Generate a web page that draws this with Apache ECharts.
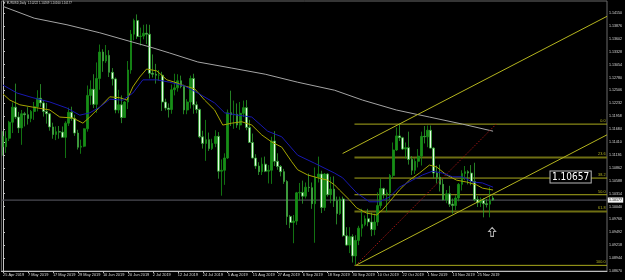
<!DOCTYPE html>
<html><head><meta charset="utf-8">
<script src="https://cdn.jsdelivr.net/npm/echarts@6/dist/echarts.min.js"></script>
<style>html,body{margin:0;padding:0;background:#000;}#c{width:625px;height:280px;}</style>
</head><body><div id="c"></div>
<script>
// ---- categories (trading days) ----
const monthDays = [
 ['Apr', [25,26,29,30]],
 ['May', [1,2,3,6,7,8,9,10,13,14,15,16,17,20,21,22,23,24,27,28,29,30,31]],
 ['Jun', [3,4,5,6,7,10,11,12,13,14,17,18,19,20,21,24,25,26,27,28]],
 ['Jul', [1,2,3,4,5,8,9,10,11,12,15,16,17,18,19,22,23,24,25,26,29,30,31]],
 ['Aug', [1,2,5,6,7,8,9,12,13,14,15,16,19,20,21,22,23,26,27,28,29,30]],
 ['Sep', [2,3,4,5,6,9,10,11,12,13,16,17,18,19,20,23,24,25,26,27,30]],
 ['Oct', [1,2,3,4,7,8,9,10,11,14,15,16,17,18,21,22,23,24,25,28,29,30,31]],
 ['Nov', [1,4,5,6,7,8,11,12,13,14,15,18,19,20,21,22,25,26,27,28,29]],
 ['Dec', [2]]
];
const FUTURE_SLOTS = 36;

// ---- OHLC ----
const opens = [
1.1153,1.1131,1.1149,1.1183,1.1215,1.1194,1.1171,1.1201,1.1199,1.1191,
1.1206,1.1216,1.1234,1.1224,1.1206,1.1201,1.1173,1.1157,1.1163,1.1162,
1.1151,1.1181,1.1204,1.1191,1.1160,1.1130,1.1132,1.1169,1.1240,1.1253,
1.1221,1.1276,1.1332,1.1313,1.1325,1.1289,1.1275,1.1209,1.1220,1.1193,
1.1226,1.1294,1.1370,1.1399,1.1365,1.1366,1.1372,1.1370,1.1287,1.1285,
1.1283,1.1283,1.1226,1.1213,1.1210,1.1252,1.1256,1.1271,1.1259,1.1209,
1.1226,1.1276,1.1220,1.1210,1.1152,1.1138,1.1146,1.1127,1.1138,1.1153,
1.1079,1.1081,1.1107,1.1203,1.1199,1.1200,1.1177,1.1202,1.1214,1.1172,
1.1140,1.1107,1.1090,1.1078,1.1094,1.1079,1.1081,1.1143,1.1100,1.1089,
1.1078,1.1057,1.0983,1.0970,1.0973,1.1033,1.1034,1.1026,1.1045,1.1044,
1.1010,1.1066,1.1073,1.1002,1.1073,1.1029,1.1041,1.1016,1.0989,1.1020,
1.0942,1.0922,1.0940,1.0899,1.0932,1.0958,1.0966,1.0978,1.0971,1.0955,
1.0971,1.1006,1.1042,1.1029,1.1033,1.1070,1.1124,1.1154,1.1150,1.1126,
1.1129,1.1104,1.1081,1.1100,1.1111,1.1153,1.1152,1.1166,1.1128,1.1075,
1.1066,1.1051,1.1018,1.1031,1.1009,1.1006,1.1022,1.1051,1.1074,1.1078,
1.1075,1.1057,1.1019,1.1012,1.1017,1.1010,1.1009,1.10222];
const highs = [
1.1164,1.1164,1.1186,1.1225,1.1265,1.1205,1.1209,1.1205,1.1215,1.1209,
1.1226,1.1251,1.1264,1.1230,1.1224,1.1203,1.1182,1.1174,1.1175,1.1174,
1.1185,1.1214,1.1216,1.1199,1.1167,1.1146,1.1170,1.1261,1.1272,1.1285,
1.1310,1.1348,1.1338,1.1347,1.1336,1.1298,1.1278,1.1252,1.1240,1.1228,
1.1313,1.1379,1.1403,1.1412,1.1384,1.1390,1.1391,1.1390,1.1327,1.1307,
1.1294,1.1290,1.1233,1.1223,1.1263,1.1286,1.1285,1.1282,1.1263,1.1232,
1.1282,1.1286,1.1227,1.1212,1.1165,1.1188,1.1161,1.1148,1.1166,1.1162,
1.1104,1.1117,1.1210,1.1250,1.1229,1.1223,1.1226,1.1229,1.1230,1.1188,
1.1159,1.1115,1.1098,1.1108,1.1110,1.1092,1.1152,1.1164,1.1117,1.1092,
1.1084,1.1060,1.0986,1.0986,1.1035,1.1054,1.1059,1.1055,1.1074,1.1055,
1.1087,1.1110,1.1080,1.1075,1.1075,1.1067,1.1068,1.1025,1.1025,1.1025,
1.0960,1.0960,1.0945,1.0943,1.0963,1.0999,1.0985,1.0999,1.0991,1.0989,
1.1034,1.1063,1.1044,1.1040,1.1073,1.1140,1.1172,1.1179,1.1152,1.1140,
1.1163,1.1111,1.1107,1.1126,1.1163,1.1175,1.1176,1.1176,1.1130,1.1091,
1.1093,1.1063,1.1039,1.1048,1.1021,1.1028,1.1054,1.1081,1.1090,1.1081,
1.1092,1.1097,1.1026,1.1023,1.1022,1.1020,1.1045,1.10269];
const lows = [
1.1112,1.1118,1.1143,1.1160,1.1190,1.1160,1.1135,1.1174,1.1178,1.1183,
1.1188,1.1206,1.1216,1.1195,1.1180,1.1165,1.1148,1.1145,1.1148,1.1150,
1.1107,1.1175,1.1186,1.1154,1.1125,1.1116,1.1130,1.1163,1.1220,1.1213,
1.1203,1.1252,1.1290,1.1309,1.1279,1.1261,1.1202,1.1202,1.1181,1.1192,
1.1211,1.1286,1.1357,1.1360,1.1346,1.1359,1.1349,1.1276,1.1278,1.1265,
1.1271,1.1207,1.1208,1.1193,1.1201,1.1240,1.1248,1.1255,1.1200,1.1200,
1.1212,1.1201,1.1202,1.1149,1.1127,1.1101,1.1122,1.1124,1.1130,1.1063,
1.1027,1.1050,1.1105,1.1175,1.1169,1.1171,1.1167,1.1194,1.1166,1.1139,
1.1106,1.1084,1.1071,1.1071,1.1077,1.1053,1.1052,1.1090,1.1082,1.1068,
1.1052,1.0965,1.0958,1.0926,1.0965,1.1016,1.1010,1.1021,1.1035,1.0999,
1.0927,1.1055,1.0990,1.0995,1.1025,1.1011,1.1003,1.0966,1.0986,1.0940,
1.0920,1.0905,1.0885,1.0879,1.0922,1.0940,1.0962,1.0962,1.0941,1.0943,
1.0963,1.1000,1.1021,1.0992,1.1018,1.1063,1.1122,1.1143,1.1124,1.1106,
1.1093,1.1071,1.1073,1.1087,1.1091,1.1138,1.1130,1.1127,1.1064,1.1053,
1.1036,1.1017,1.1011,1.1003,1.0989,1.0996,1.1015,1.1038,1.1060,1.1051,
1.1049,1.1015,1.1003,1.1003,1.0981,1.1002,1.0981,1.10160];
const closes = [
1.1131,1.1149,1.1183,1.1215,1.1194,1.1171,1.1201,1.1199,1.1191,1.1206,
1.1216,1.1234,1.1224,1.1206,1.1201,1.1173,1.1157,1.1163,1.1162,1.1151,
1.1181,1.1204,1.1191,1.1160,1.1130,1.1132,1.1169,1.1240,1.1253,1.1221,
1.1276,1.1332,1.1313,1.1325,1.1289,1.1275,1.1209,1.1220,1.1193,1.1226,
1.1294,1.1370,1.1399,1.1365,1.1366,1.1372,1.1370,1.1287,1.1285,1.1283,
1.1283,1.1226,1.1213,1.1210,1.1252,1.1256,1.1271,1.1259,1.1209,1.1226,
1.1276,1.1220,1.1210,1.1152,1.1138,1.1146,1.1127,1.1138,1.1153,1.1079,
1.1081,1.1107,1.1203,1.1199,1.1200,1.1177,1.1202,1.1214,1.1172,1.1140,
1.1107,1.1090,1.1078,1.1094,1.1079,1.1081,1.1143,1.1100,1.1089,1.1078,
1.1057,1.0983,1.0970,1.0973,1.1033,1.1034,1.1026,1.1045,1.1044,1.1010,
1.1066,1.1073,1.1002,1.1073,1.1029,1.1041,1.1016,1.0989,1.1020,1.0942,
1.0922,1.0940,1.0899,1.0932,1.0958,1.0966,1.0978,1.0971,1.0955,1.0971,
1.1006,1.1042,1.1029,1.1033,1.1070,1.1124,1.1154,1.1150,1.1126,1.1129,
1.1104,1.1081,1.1100,1.1111,1.1153,1.1152,1.1166,1.1128,1.1075,1.1066,
1.1051,1.1018,1.1031,1.1009,1.1006,1.1022,1.1051,1.1074,1.1078,1.1075,
1.1057,1.1019,1.1012,1.1017,1.1010,1.1008,1.1017,1.10177];

// ---- moving averages: [bar index, price] ----
const grayMA = [[0,1.1429],[10,1.1404],[20.5,1.1390],[31,1.1373],[41.6,1.1353],[47,1.1343],[53.4,1.1330],[62.4,1.1311],[73.3,1.1298],[84,1.1285],[94.4,1.1268],[106.2,1.1251],[115.2,1.1230],[126,1.1209],[136.6,1.1194],[147.2,1.1179],[157,1.1164]];
const yellowMA = [[0,1.1243],[2.2,1.1230],[5.4,1.1220],[9.6,1.1215],[15,1.1209],[18.2,1.1194],[22.4,1.1192],[25.6,1.1181],[27.8,1.1194],[31,1.1215],[34.2,1.1237],[37.4,1.1235],[39.7,1.1230],[41.6,1.1258],[43.8,1.1279],[46,1.1296],[49.3,1.1292],[52.5,1.1273],[55,1.1268],[58.2,1.1260],[61.4,1.1254],[64.6,1.1230],[67.8,1.1209],[70.4,1.1177],[73.3,1.1181],[76.5,1.1184],[79.7,1.1177],[82.9,1.1156],[86.1,1.1141],[89.3,1.1130],[92.5,1.1099],[94.4,1.1082],[97.6,1.1071],[100.8,1.1065],[104,1.1060],[106.2,1.1050],[107.8,1.1039],[111,1.1018],[113.3,1.1001],[116.5,1.0990],[119.7,1.0986],[121.6,1.0997],[123.8,1.1014],[127,1.1039],[130.2,1.1060],[133.4,1.1075],[136.6,1.1092],[138.9,1.1088],[142.1,1.1071],[145.3,1.1060],[148.5,1.1056],[151.7,1.1050],[153.6,1.1043],[157,1.1039]];
const blueMA = [[0,1.1262],[4.5,1.1245],[9.6,1.1235],[15,1.1226],[20.5,1.1213],[24.6,1.1198],[27.8,1.1203],[31,1.1215],[34.2,1.1232],[38.4,1.1230],[41.6,1.1245],[44.8,1.1273],[49.3,1.1273],[53.4,1.1268],[58.2,1.1260],[62.4,1.1245],[67.8,1.1224],[71,1.1203],[75.2,1.1198],[79.7,1.1194],[84.8,1.1164],[89.3,1.1152],[94.4,1.1113],[99.8,1.1096],[106.2,1.1075],[108.8,1.1065],[113.3,1.1033],[117.4,1.1014],[120.6,1.1014],[123.8,1.1024],[127,1.1045],[131.2,1.1060],[134.4,1.1071],[137.6,1.1079],[140.8,1.1075],[144,1.1067],[147.2,1.1067],[150.4,1.1056],[153.6,1.1054],[157,1.1045]];

// ---- drawing objects ----
const fibNames = ['0.0','23.6','38.2','50.0','61.8','100.0'];
const fibPrices = [1.1179, 1.11082, 1.10644, 1.1029, 1.09936, 1.0879];
const fibStart = 112.6;
const channelUpper = [[108.8,1.11166],[193.5,1.1408]];
const channelLower = [[113,1.0879],[193.5,1.11563]];
const fibDiagonal = [[113,1.0879],[158,1.1179]];
const arrowPoint = [156.7, 1.0950];
const textLabel = {text:'1.10657', at:[175.4, 1.10667]};
const lastPrice = 1.10177;
const titleText = 'EURUSD,Daily  1.10222 1.10269 1.10160 1.10177';

// ---- axis tick labels ----
const priceTicks = [1.08670,1.08944,1.09218,1.09492,1.09766,1.10040,1.10314,1.10588,1.10862,1.11136,1.11410,1.11684,1.11958,1.12232,1.12506,1.12780,1.13054,1.13328,1.13602,1.13876,1.14150];
const DATE_LABEL_STEP = 8;

// ---- build ----
const dates = [];
monthDays.forEach(([m, ds]) => ds.forEach(d => dates.push(d + ' ' + m + ' 2019')));
const categories = dates.concat(new Array(FUTURE_SLOTS).fill(''));
const candles = dates.map((d, i) => [opens[i], closes[i], lows[i], highs[i]]);
const nSlots = categories.length;

const GREEN = '#178f17';
const labelFont = '"Liberation Sans", Arial, sans-serif';

function seg(data, color, width, type, z) {
  return {type:'line', xAxisIndex:1, yAxisIndex:0, data, symbol:'none', silent:true, animation:false,
    lineStyle:{color, width, type: type || 'solid'}, z: z || 3};
}

const series = [];
fibPrices.forEach((p, i) => {
  const thick = (fibNames[i] === '23.6' || fibNames[i] === '61.8');
  series.push(seg([[fibStart, p],[nSlots - 0.5, p]], thick ? '#6f6f12' : '#a9a91c', thick ? 2 : 1, 'solid', 1));
});
series.push({
  type:'candlestick', xAxisIndex:0, yAxisIndex:0, data:candles, barWidth:2.2, animation:false, z:2,
  itemStyle:{color:GREEN, color0:'#e6ffe6', borderColor:GREEN, borderColor0:'#2f9f2f', borderWidth:0.8}
});
series.push(seg([[-0.5,lastPrice],[nSlots-0.5,lastPrice]], '#4a4a52', 1.2, 'solid', 1));
series.push(seg(grayMA, '#a4a4a4', 1, 'solid', 4));
series.push(seg(yellowMA, '#a6a600', 1, 'solid', 4));
series.push(seg(blueMA, '#1818b0', 1, 'solid', 4));
series.push(seg(channelUpper, '#b4b41e', 1, 'solid', 5));
series.push(seg(channelLower, '#b4b41e', 1, 'solid', 5));
series.push(seg(fibDiagonal, '#a01414', 1, [1.5,1.5], 5));
series.push({type:'scatter', xAxisIndex:1, yAxisIndex:0, data:[arrowPoint], silent:true, animation:false, z:6,
  symbol:'path://M5,0 L10,5 L7,5 L7,11 L3,11 L3,5 L0,5 Z', symbolSize:[7,9],
  itemStyle:{color:'rgba(0,0,0,0)', borderColor:'#e0e0e0', borderWidth:1}});

const option = {
  backgroundColor:'#000',
  animation:false,
  grid:{left:1.4, right:17.4, top:1, bottom:9, show:true, borderColor:'#6a6a6a', borderWidth:1, backgroundColor:'#000'},
  xAxis:[
    {type:'category', data:categories, boundaryGap:true,
      axisLine:{lineStyle:{color:'#bdbdbd', width:1}},
      axisTick:{show:true, alignWithLabel:true, length:2, lineStyle:{color:'#bdbdbd'},
        interval:(i, v) => i % DATE_LABEL_STEP === 0 && v !== ''},
      axisLabel:{interval:(i, v) => i % DATE_LABEL_STEP === 0 && v !== '', align:'left', margin:2,
        fontSize:3.9, color:'#dcdcdc', fontFamily:labelFont},
      splitLine:{show:false}},
    {type:'value', min:-0.5, max:nSlots-0.5, show:false, splitLine:{show:false}}
  ],
  yAxis:[{type:'value', position:'right', min:1.0867, max:1.14405, scale:true,
    axisLine:{show:true, lineStyle:{color:'#c4c4c4', width:1}},
    axisTick:{show:true, length:2, customValues:priceTicks, lineStyle:{color:'#c4c4c4'}},
    axisLabel:{customValues:priceTicks, formatter:v => v.toFixed(5), fontSize:3.6, margin:2,
      color:'#dcdcdc', fontFamily:labelFont, showMinLabel:true, showMaxLabel:true},
    splitLine:{show:false}}],
  series
};

const chart = echarts.init(document.getElementById('c'));
chart.setOption(option);

const px = (pt) => chart.convertToPixel({xAxisIndex:1, yAxisIndex:0}, pt);
const graphics = [];
graphics.push({type:'text', left:3, top:1.6, z:20, style:{text:'\u25BC ' + titleText, fill:'#d8d8d8', font:'2.9px ' + labelFont}});
fibPrices.forEach((p, i) => {
  const q = px([nSlots - 0.5, p]);
  graphics.push({type:'text', x:q[0] - 1.5, y:q[1] - 1, z:20,
    style:{text:fibNames[i], fill:'#b4b420', font:'3.8px ' + labelFont, align:'right', verticalAlign:'bottom'}});
});
const lp = px([nSlots - 0.5, lastPrice]);
graphics.push({type:'text', x:lp[0] + 0.8, y:lp[1], z:20,
  style:{text:lastPrice.toFixed(5), fill:'#000', backgroundColor:'#f2f2f2', padding:[0.6,1.2,0.6,1.2],
    font:'3.6px ' + labelFont, verticalAlign:'middle'}});
const tp = px(textLabel.at);
graphics.push({type:'text', x:tp[0], y:tp[1], z:20,
  style:{text:textLabel.text, fill:'#ffffff', backgroundColor:'#000', borderColor:'#b8b8b8', borderWidth:1,
    padding:[1,1.5,0,1.5], font:'10px "Liberation Sans Narrow", "DejaVu Sans Condensed", "Liberation Sans", sans-serif',
    verticalAlign:'middle'}});
chart.setOption({graphic:graphics});
</script>
</body></html>
